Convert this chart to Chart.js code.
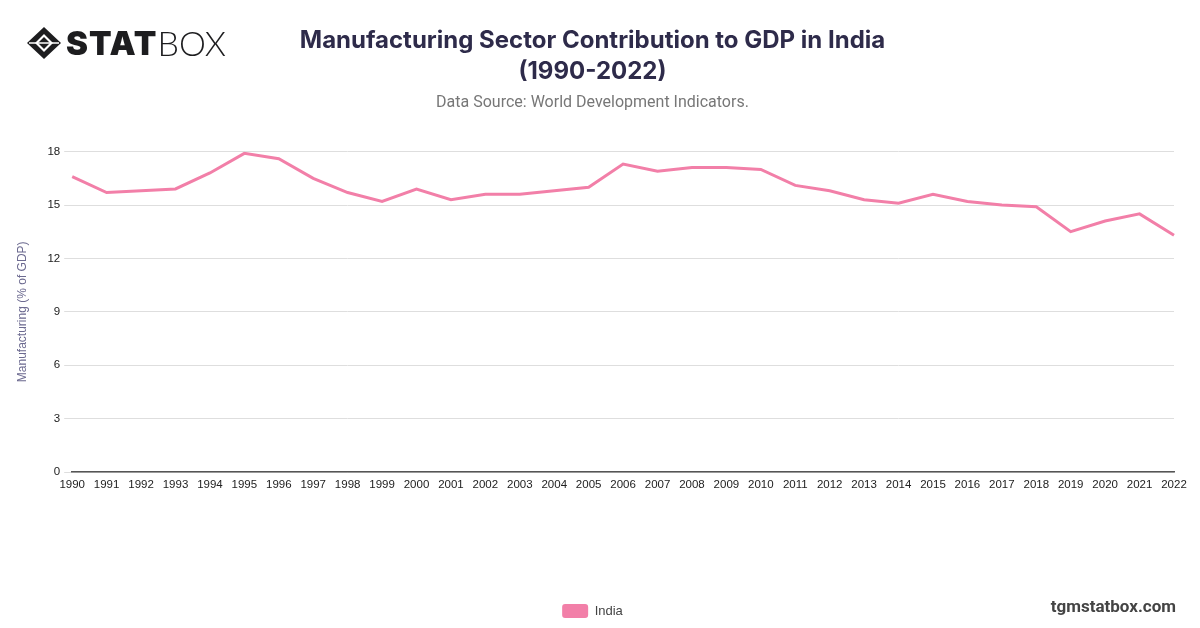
<!DOCTYPE html>
<html>
<head>
<meta charset="utf-8">
<script src="https://cdn.jsdelivr.net/npm/chart.js@4.4.1/dist/chart.umd.min.js"></script>
<style>
  html, body { margin:0; padding:0; background:#fff; }
  .wrap { position:relative; width:1200px; height:628px; overflow:hidden; }
  #chart { position:absolute; left:0; top:0; }
  .logo { position:absolute; left:26px; top:22px; display:flex; align-items:center; color:#1d1d1f; }
  .logo svg { width:36px; height:34px; margin-right:4px; }
  .logo .stat { font-family:'Inter','DejaVu Sans',sans-serif; font-weight:900; font-size:33px; letter-spacing:1px; }
  .logo .box { font-family:'Lato','Noto Sans',sans-serif; font-weight:300; font-size:34px; }
  .site { position:absolute; right:24px; top:596px; font-family:'Roboto','Liberation Sans',sans-serif;
          font-weight:700; font-size:17px; color:#444; }
</style>
</head>
<body>
<div class="wrap">
  <canvas id="chart" width="1200" height="628"></canvas>
  <div class="logo">
    <svg viewBox="0 0 36 34">
      <path d="M18 1 L35 17 L18 33 L1 17 Z" fill="#1d1d1f"/>
      <path d="M18 8 L27 17 L18 26 L9 17 Z" fill="#fff"/>
      <path d="M18 11 L24 17 L18 23 L12 17 Z" fill="#1d1d1f"/>
      <path d="M3 17 L33 17" stroke="#fff" stroke-width="1.5"/>
    </svg>
    <span class="stat">STAT</span><span class="box">BOX</span>
  </div>
  <div class="site">tgmstatbox.com</div>
</div>
<script>
const YEARS = ['1990','1991','1992','1993','1994','1995','1996','1997','1998','1999','2000',
  '2001','2002','2003','2004','2005','2006','2007','2008','2009','2010',
  '2011','2012','2013','2014','2015','2016','2017','2018','2019','2020','2021','2022'];
const INDIA = [16.6,15.7,15.8,15.9,16.8,17.9,17.6,16.5,15.7,15.2,15.9,
  15.3,15.6,15.6,15.8,16.0,17.3,16.9,17.1,17.1,17.0,
  16.1,15.8,15.3,15.1,15.6,15.2,15.0,14.9,13.5,14.1,14.5,13.3];
const Y_TICKS = [0,3,6,9,12,15,18];

const tickFont = { family:"'Liberation Sans', Arial, sans-serif", size:11.5 };

new Chart(document.getElementById('chart'), {
  type:'line',
  data:{ labels:YEARS, datasets:[{
    label:'India', data:INDIA, borderColor:'#f27fa8', backgroundColor:'#f27fa8',
    borderWidth:3, pointRadius:0, tension:0, fill:false
  }]},
  options:{
    responsive:false, animation:false,
    layout:{ padding:{ left:11, right:26, top:15, bottom:0 } },
    plugins:{
      title:{ display:true, text:['Manufacturing Sector Contribution to GDP in India','(1990-2022)'],
        color:'#2e2b4a', font:{ family:"'Inter', sans-serif", size:24, weight:'bold', lineHeight:1.3 },
        padding:{ top:10, bottom:6 } },
      subtitle:{ display:true, text:'Data Source: World Development Indicators.',
        color:'#777', font:{ family:"'Roboto', sans-serif", size:16 }, padding:{ top:0, bottom:39 } },
      legend:{ position:'bottom', labels:{ boxWidth:26, boxHeight:14, color:'#444',
        font:{ family:"'Liberation Sans', Arial, sans-serif", size:13 }, padding:10,
        generateLabels:(c)=>Chart.defaults.plugins.legend.labels.generateLabels(c).map(l=>({...l, lineWidth:0, borderRadius:3})) } },
      tooltip:{ enabled:false }
    },
    scales:{
      x:{ grid:{ display:false }, border:{ color:'#555', width:1.5 },
        ticks:{ color:'#222', font:tickFont, maxRotation:0, autoSkip:false, padding:-2 },
        afterFit:(s)=>{ s.height = 122; } },
      y:{ min:0, max:18, afterBuildTicks:(s)=>{ s.ticks = Y_TICKS.map(v=>({value:v})); },
        grid:{ color:'#dedede', drawTicks:true, tickLength:8 }, border:{ display:false },
        ticks:{ color:'#222', font:tickFont, padding:4 },
        title:{ display:true, text:'Manufacturing (% of GDP)', color:'#6c6a90',
          font:{ family:"'Liberation Sans', Arial, sans-serif", size:12 }, padding:{ bottom:14 } } }
    }
  }
});
</script>
</body>
</html>
